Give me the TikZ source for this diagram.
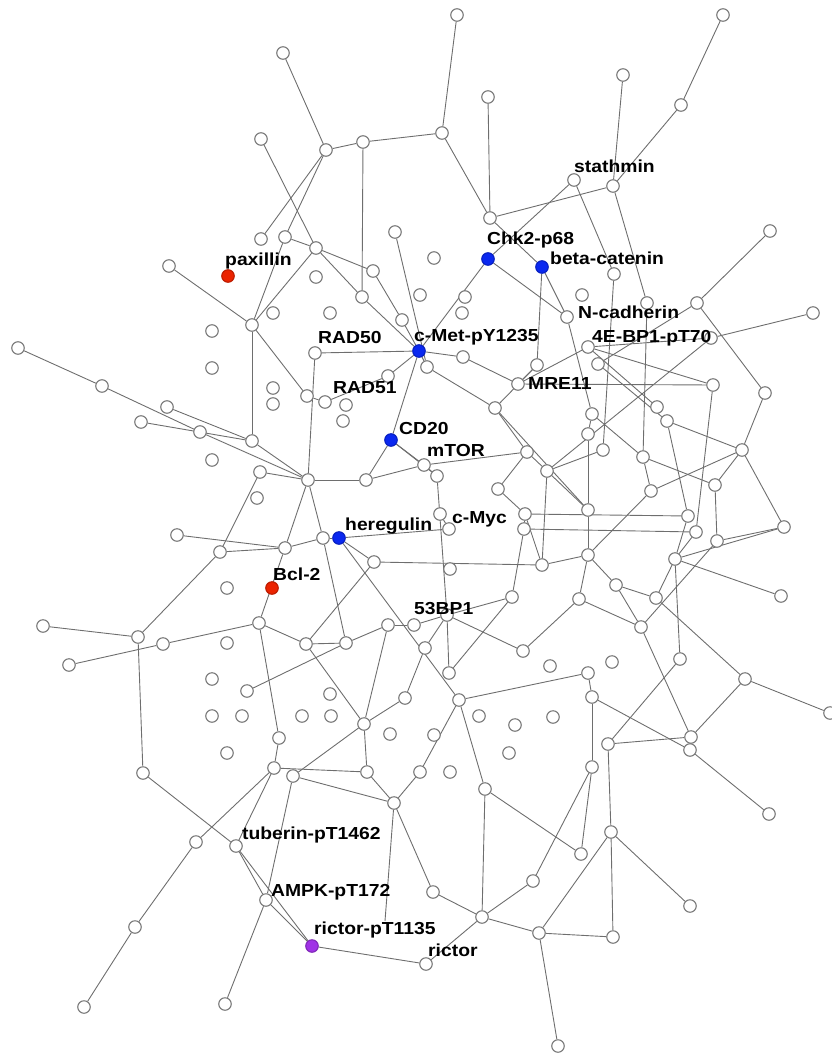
\documentclass[tikz,border=0pt]{standalone}
\usepackage{fontspec}
\setmainfont{Liberation Sans}
\usepackage{graphicx}
\usetikzlibrary{backgrounds}
\definecolor{edgegray}{RGB}{110,110,110}
\definecolor{ringgray}{RGB}{120,120,120}
\definecolor{nblue}{RGB}{10,40,240}
\definecolor{nred}{RGB}{235,35,0}
\definecolor{npurple}{RGB}{160,50,230}
\tikzset{
 v/.style={circle,draw=ringgray,fill=white,line width=1.1pt,minimum size=12.5pt,inner sep=0pt},
 vb/.style={v,draw=nblue!80!black,fill=nblue},
 vr/.style={v,draw=nred!80!black,fill=nred},
 vp/.style={v,draw=npurple!80!black,fill=npurple},
 lab/.style={anchor=base west,inner sep=0pt,font=\fontsize{17.4}{18}\selectfont\bfseries},
 ed/.style={draw=edgegray,line width=0.9pt}
}
\newcommand{\lbl}[1]{\scalebox{1.11}[1]{#1}}
\begin{document}
\begin{tikzpicture}[x=1pt,y=-1pt]
\useasboundingbox (0,0) rectangle (831,1053);
% nodes
\node[v] (v1) at (283,53) {};
\node[v] (v2) at (457,15) {};
\node[v] (v3) at (723,15) {};
\node[v] (v4) at (623,75) {};
\node[v] (v5) at (488,97) {};
\node[v] (v6) at (681,105) {};
\node[v] (v7) at (442,133) {};
\node[v] (v8) at (363,142) {};
\node[v] (v9) at (326,150) {};
\node[v] (v10) at (261,139) {};
\node[v] (v11) at (574,180) {};
\node[v] (v12) at (613,186) {};
\node[v] (v13) at (490,218) {};
\node[v] (v14) at (770,231) {};
\node[v] (v15) at (395,232) {};
\node[v] (v16) at (285,237) {};
\node[v] (v17) at (261,239) {};
\node[v] (v18) at (316,248) {};
\node[v] (v19) at (434,258) {};
\node[vb] (v20) at (488,259) {};
\node[vb] (v21) at (542,267) {};
\node[v] (v22) at (373,271) {};
\node[v] (v23) at (169,266) {};
\node[vr] (v24) at (228,276) {};
\node[v] (v25) at (614,274) {};
\node[v] (v26) at (316,277) {};
\node[v] (v27) at (362,297) {};
\node[v] (v28) at (420,295) {};
\node[v] (v29) at (465,297) {};
\node[v] (v30) at (582,295) {};
\node[v] (v31) at (697,303) {};
\node[v] (v32) at (647,303) {};
\node[v] (v33) at (813,313) {};
\node[v] (v34) at (252,325) {};
\node[v] (v35) at (273,313) {};
\node[v] (v36) at (330,313) {};
\node[v] (v37) at (212,331) {};
\node[v] (v38) at (402,320) {};
\node[v] (v39) at (462,313) {};
\node[v] (v40) at (567,317) {};
\node[v] (v41) at (711,338) {};
\node[v] (v42) at (588,347) {};
\node[v] (v43) at (18,348) {};
\node[v] (v44) at (315,353) {};
\node[vb] (v45) at (419,351) {};
\node[v] (v46) at (537,365) {};
\node[v] (v47) at (598,364) {};
\node[v] (v48) at (427,367) {};
\node[v] (v49) at (463,357) {};
\node[v] (v50) at (212,368) {};
\node[v] (v51) at (388,376) {};
\node[v] (v52) at (518,384) {};
\node[v] (v53) at (713,385) {};
\node[v] (v54) at (102,386) {};
\node[v] (v55) at (273,388) {};
\node[v] (v56) at (765,393) {};
\node[v] (v57) at (273,404) {};
\node[v] (v58) at (307,396) {};
\node[v] (v59) at (325,402) {};
\node[v] (v60) at (346,405) {};
\node[v] (v61) at (343,421) {};
\node[v] (v62) at (167,407) {};
\node[v] (v63) at (495,408) {};
\node[v] (v64) at (592,414) {};
\node[v] (v65) at (657,407) {};
\node[v] (v66) at (667,421) {};
\node[v] (v67) at (141,422) {};
\node[v] (v68) at (200,432) {};
\node[v] (v69) at (588,434) {};
\node[vb] (v70) at (391,440) {};
\node[v] (v71) at (252,441) {};
\node[v] (v72) at (603,450) {};
\node[v] (v73) at (742,450) {};
\node[v] (v74) at (527,452) {};
\node[v] (v75) at (643,457) {};
\node[v] (v76) at (212,460) {};
\node[v] (v77) at (424,465) {};
\node[v] (v78) at (547,471) {};
\node[v] (v79) at (260,472) {};
\node[v] (v80) at (437,476) {};
\node[v] (v81) at (308,480) {};
\node[v] (v82) at (366,480) {};
\node[v] (v83) at (498,489) {};
\node[v] (v84) at (651,491) {};
\node[v] (v85) at (715,485) {};
\node[v] (v86) at (257,498) {};
\node[v] (v87) at (588,510) {};
\node[v] (v88) at (688,516) {};
\node[v] (v89) at (440,514) {};
\node[v] (v90) at (525,514) {};
\node[v] (v91) at (449,529) {};
\node[v] (v92) at (524,529) {};
\node[v] (v93) at (696,532) {};
\node[v] (v94) at (717,541) {};
\node[v] (v95) at (784,527) {};
\node[vb] (v96) at (339,538) {};
\node[v] (v97) at (323,538) {};
\node[v] (v98) at (177,535) {};
\node[v] (v99) at (285,548) {};
\node[v] (v100) at (220,552) {};
\node[v] (v101) at (588,555) {};
\node[v] (v102) at (374,562) {};
\node[v] (v103) at (450,569) {};
\node[v] (v104) at (542,565) {};
\node[v] (v105) at (675,559) {};
\node[v] (v106) at (616,585) {};
\node[vr] (v107) at (272,588) {};
\node[v] (v108) at (227,588) {};
\node[v] (v109) at (512,597) {};
\node[v] (v110) at (656,598) {};
\node[v] (v111) at (579,599) {};
\node[v] (v112) at (781,596) {};
\node[v] (v113) at (447,615) {};
\node[v] (v114) at (259,623) {};
\node[v] (v115) at (388,625) {};
\node[v] (v116) at (414,625) {};
\node[v] (v117) at (43,626) {};
\node[v] (v118) at (641,627) {};
\node[v] (v119) at (138,637) {};
\node[v] (v120) at (163,644) {};
\node[v] (v121) at (227,643) {};
\node[v] (v122) at (306,644) {};
\node[v] (v123) at (346,643) {};
\node[v] (v124) at (425,648) {};
\node[v] (v125) at (523,651) {};
\node[v] (v126) at (69,665) {};
\node[v] (v127) at (550,666) {};
\node[v] (v128) at (612,662) {};
\node[v] (v129) at (680,659) {};
\node[v] (v130) at (449,673) {};
\node[v] (v131) at (588,673) {};
\node[v] (v132) at (745,679) {};
\node[v] (v133) at (212,679) {};
\node[v] (v134) at (247,691) {};
\node[v] (v135) at (330,694) {};
\node[v] (v136) at (405,698) {};
\node[v] (v137) at (459,700) {};
\node[v] (v138) at (592,697) {};
\node[v] (v139) at (302,716) {};
\node[v] (v140) at (331,716) {};
\node[v] (v141) at (212,716) {};
\node[v] (v142) at (242,716) {};
\node[v] (v143) at (479,716) {};
\node[v] (v144) at (553,717) {};
\node[v] (v145) at (830,713) {};
\node[v] (v146) at (364,724) {};
\node[v] (v147) at (515,725) {};
\node[v] (v148) at (390,734) {};
\node[v] (v149) at (434,735) {};
\node[v] (v150) at (279,738) {};
\node[v] (v151) at (691,737) {};
\node[v] (v152) at (690,750) {};
\node[v] (v153) at (608,744) {};
\node[v] (v154) at (227,753) {};
\node[v] (v155) at (509,753) {};
\node[v] (v156) at (592,767) {};
\node[v] (v157) at (143,773) {};
\node[v] (v158) at (274,768) {};
\node[v] (v159) at (293,776) {};
\node[v] (v160) at (367,772) {};
\node[v] (v161) at (420,772) {};
\node[v] (v162) at (450,772) {};
\node[v] (v163) at (485,789) {};
\node[v] (v164) at (394,803) {};
\node[v] (v165) at (769,814) {};
\node[v] (v166) at (611,832) {};
\node[v] (v167) at (196,842) {};
\node[v] (v168) at (236,846) {};
\node[v] (v169) at (581,854) {};
\node[v] (v170) at (533,881) {};
\node[v] (v171) at (433,892) {};
\node[v] (v172) at (266,900) {};
\node[v] (v173) at (690,906) {};
\node[v] (v174) at (482,917) {};
\node[v] (v175) at (135,927) {};
\node[v] (v176) at (539,933) {};
\node[v] (v177) at (613,937) {};
\node[vp] (v178) at (312,946) {};
\node[v] (v179) at (426,964) {};
\node[v] (v180) at (225,1004) {};
\node[v] (v181) at (84,1007) {};
\node[v] (v182) at (558,1046) {};
\coordinate (e1) at (385,921);
% edges
\begin{scope}[on background layer]
\foreach \a/\b in {v1/v9,v9/v8,v8/v7,v7/v2,v7/v13,v5/v13,v12/v13,v4/v12,v6/v12,v3/v6,v11/v25,v12/v32,v14/v31,v10/v18,v17/v9,v9/v16,v16/v18,v23/v34,v34/v16,v34/v18,v34/v58,v34/v71,v43/v54,v54/v68,v68/v81,v62/v71,v67/v71,v71/v81,v79/v81,v79/v100,v98/v99,v100/v99,v100/v119,v117/v119,v126/v120,v120/v114,v119/v157,v114/v99,v99/v81,v114/v122,v114/v150,v134/v123,v150/v158,v158/v167,v158/v168,v157/v168,v168/v172,v172/v178,v168/v178,v167/v175,v175/v181,v172/v180,v159/v172,v158/v160,v159/v164,v160/v164,v164/v171,v164/v161,v171/v174,v174/v176,v163/v174,v163/v169,v163/v137,v170/v156,v170/v174,v174/v179,v178/v179,v176/v177,v176/v182,v176/v166,v166/v177,v166/v173,v166/v153,v169/v156,v152/v165}
  \draw[ed] (\a) -- (\b);
\foreach \a/\b in {v18/v22,v22/v38,v38/v45,v18/v27,v27/v45,v8/v27,v44/v45,v44/v81,v58/v59,v59/v51,v51/v45,v15/v48,v20/v45,v11/v20,v45/v48,v45/v70,v70/v82,v81/v82,v82/v77,v70/v77,v70/v80,v77/v80,v80/v113,v113/v130,v45/v49,v49/v52,v48/v63,v63/v46,v21/v46,v21/v40,v46/v52,v52/v42,v42/v53,v40/v64,v25/v72,v32/v75,v31/v47,v41/v42,v66/v73,v56/v73,v73/v95,v73/v84,v73/v85,v64/v69,v69/v87,v72/v78,v75/v84,v75/v85,v84/v101,v87/v101,v74/v78,v74/v83,v63/v74,v77/v74,v83/v90,v89/v91,v90/v92,v91/v96,v90/v88,v92/v93,v94/v95,v85/v94,v96/v97,v97/v99,v81/v97,v97/v123,v102/v104,v96/v102,v102/v122,v96/v137,v123/v122,v123/v115,v115/v116,v116/v113,v113/v109,v109/v92,v122/v146,v146/v159,v146/v136,v146/v160,v146/v115,v124/v113,v124/v136,v130/v109,v137/v131,v137/v161,v145/v132,v132/v110,v132/v151,v112/v105,v95/v105,v105/v129,v88/v105,v129/v153,v106/v101,v106/v118,v118/v151,v118/v94,v101/v111,v111/v125,v111/v118,v110/v105,v110/v106,v104/v101,v93/v105,v131/v138,v138/v156,v138/v152,v153/v151,v65/v42,v66/v88,v53/v93,v31/v56,v33/v41,v78/v104,v125/v113}
  \draw[ed] (\a) -- (\b);
\foreach \a/\b in {v13/v21,v20/v40,v52/v53,v41/v78,v47/v66,v63/v87,v64/v75,v78/v87,v90/v104}
  \draw[ed] (\a) -- (\b);
\draw[ed] (v164) -- (e1);
\end{scope}
% labels
\node[lab] (l1) at (574,172) {\lbl{stathmin}};
\node[lab] (l2) at (487,244) {\lbl{Chk2-p68}};
\node[lab] (l3) at (550,264) {\lbl{beta-catenin}};
\node[lab] (l4) at (225,265) {\lbl{paxillin}};
\node[lab] (l5) at (578,318) {\lbl{N-cadherin}};
\node[lab] (l6) at (592,342) {\lbl{4E-BP1-pT70}};
\node[lab] (l7) at (318,343) {\lbl{RAD50}};
\node[lab] (l8) at (414,341) {\lbl{c-Met-pY1235}};
\node[lab] (l9) at (333,393) {\lbl{RAD51}};
\node[lab] (l10) at (528,389) {\lbl{MRE11}};
\node[lab] (l11) at (399,434) {\lbl{CD20}};
\node[lab] (l12) at (427,456) {\lbl{mTOR}};
\node[lab] (l13) at (345,530) {\lbl{heregulin}};
\node[lab] (l14) at (452,523) {\lbl{c-Myc}};
\node[lab] (l15) at (273,580) {\lbl{Bcl-2}};
\node[lab] (l16) at (414,614) {\lbl{53BP1}};
\node[lab] (l17) at (242,839) {\lbl{tuberin-pT1462}};
\node[lab] (l18) at (271,896) {\lbl{AMPK-pT172}};
\node[lab] (l19) at (314,934) {\lbl{rictor-pT1135}};
\node[lab] (l20) at (428,956) {\lbl{rictor}};
\end{tikzpicture}
\end{document}
